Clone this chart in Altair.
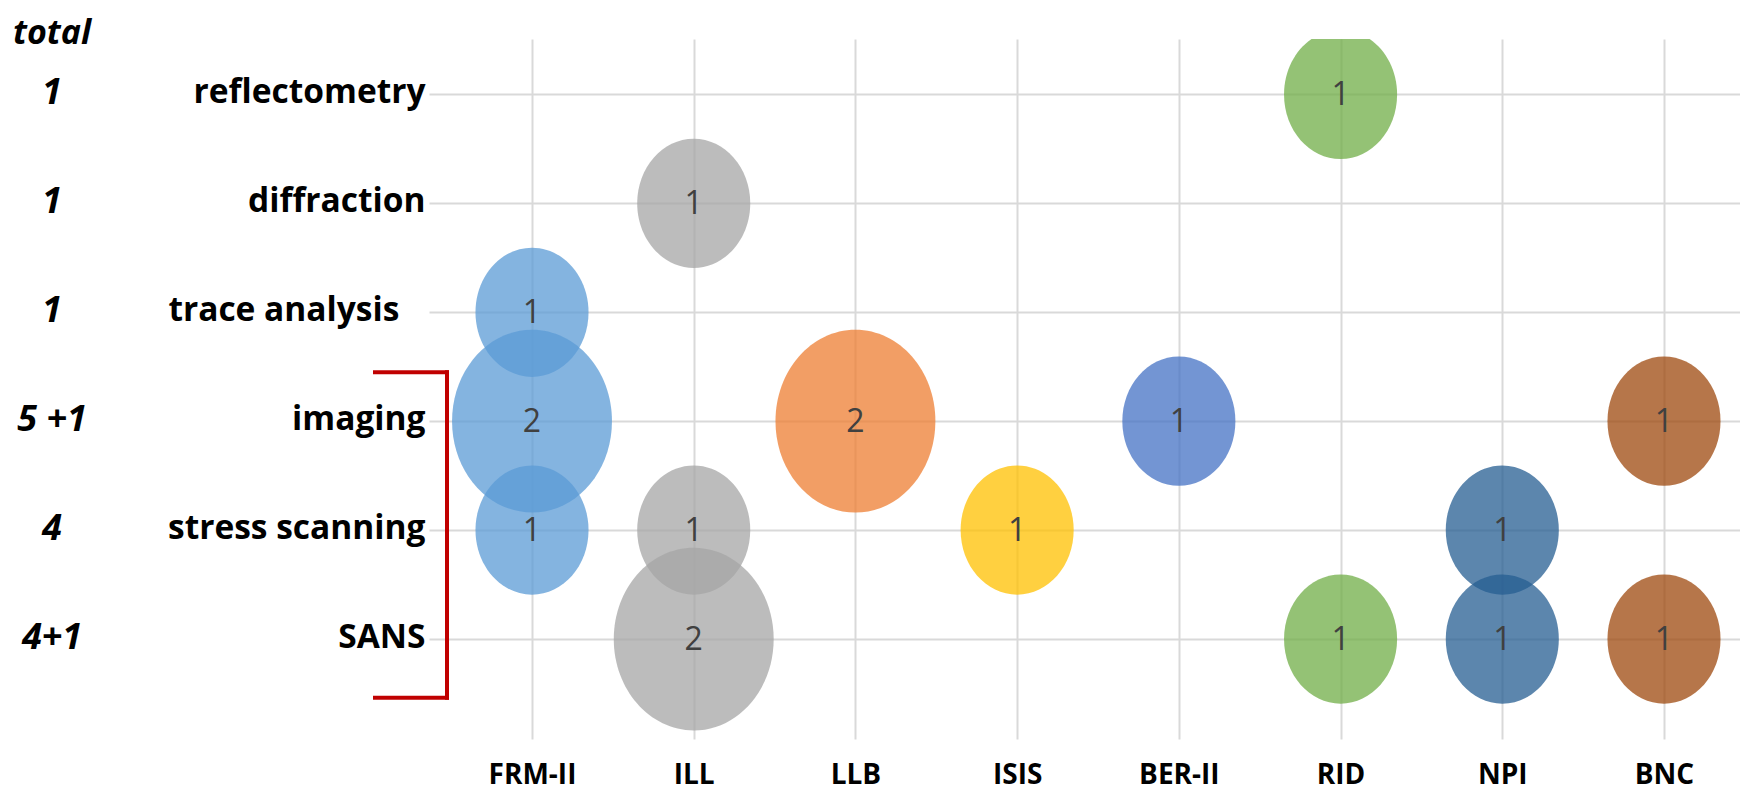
import json
import altair as alt
import pandas as pd

# ---- data ----
facilities = ["FRM-II", "ILL", "LLB", "ISIS", "BER-II", "RID", "NPI", "BNC"]
techniques = ["reflectometry", "diffraction", "trace analysis", "imaging", "stress scanning", "SANS"]
technique_labels = ["reflectometry", "diffraction", "trace analysis\u00a0\u00a0\u00a0\u200b", "imaging", "stress scanning", "SANS"]
totals = ["1", "1", "1", "5 +1", "4", "4+1"]

bubble_facility = ["FRM-II", "FRM-II", "FRM-II", "ILL", "ILL", "ILL", "LLB", "ISIS",
                   "BER-II", "RID", "RID", "NPI", "NPI", "BNC", "BNC"]
bubble_technique = ["trace analysis", "imaging", "stress scanning", "diffraction", "stress scanning", "SANS",
                    "imaging", "stress scanning", "imaging", "reflectometry", "SANS",
                    "stress scanning", "SANS", "imaging", "SANS"]
bubble_count = [1, 2, 1, 1, 1, 2, 2, 1, 1, 1, 1, 1, 1, 1, 1]

facility_colors = ["#5B9BD5", "#A5A5A5", "#ED7D31", "#FFC000", "#4472C4", "#70AD47", "#255E91", "#9E480E"]

bracket_group = ["imaging", "SANS"]

# ---- tables ----
bubbles = pd.DataFrame({
    "facility": bubble_facility,
    "technique": bubble_technique,
    "count": bubble_count,
})
bubbles["xi"] = [facilities.index(f) for f in bubble_facility]
bubbles["yi"] = [techniques.index(t) for t in bubble_technique]

tot = pd.DataFrame({"yi": list(range(len(techniques))), "total": totals})

x_expr = json.dumps(facilities, ensure_ascii=False) + "[datum.value]"
y_expr = json.dumps(technique_labels, ensure_ascii=False) + "[datum.value]"

W, H = 1311, 700
x_scale = alt.Scale(domain=[-0.637, 7.47], nice=False, zero=False)
y_scale = alt.Scale(domain=[5.918, -0.509], nice=False, zero=False)

ellipse = "M0,-1 A0.875,1 0 1,1 0,1 A0.875,1 0 1,1 0,-1 Z"

x_enc = alt.X("xi:Q", scale=x_scale, title=None,
              axis=alt.Axis(values=list(range(len(facilities))), labelExpr=x_expr,
                            grid=True, gridColor="#D9D9D9", gridWidth=2,
                            domain=False, ticks=False,
                            labelFont="Open Sans", labelFontWeight="bold", labelFontSize=28,
                            labelColor="#000000", labelPadding=22))
y_enc = alt.Y("yi:Q", scale=y_scale, title=None,
              axis=alt.Axis(values=list(range(len(techniques))), labelExpr=y_expr,
                            grid=True, gridColor="#D9D9D9", gridWidth=2,
                            domain=False, ticks=False, labelLimit=0,
                            labelFont="Open Sans", labelFontWeight="bold", labelFontSize=33.5,
                            labelColor="#000000", labelPadding=4,
                            labelBaseline="alphabetic", labelOffset=8))

points = alt.Chart(bubbles).mark_point(
    shape=ellipse, filled=True, opacity=0.75, strokeWidth=0, clip=True
).encode(
    x=x_enc,
    y=y_enc,
    size=alt.Size("count:Q", scale=alt.Scale(domain=[0, 2], range=[0, 33400]), legend=None),
    color=alt.Color("facility:N", scale=alt.Scale(domain=facilities, range=facility_colors), legend=None),
)

labels = alt.Chart(bubbles).mark_text(
    font="Open Sans", fontSize=32, color="#404040", baseline="middle", align="center", dy=1
).encode(
    x=alt.X("xi:Q", scale=x_scale),
    y=alt.Y("yi:Q", scale=y_scale),
    text=alt.Text("count:Q"),
)

total_text = alt.Chart(tot).mark_text(
    font="Open Sans", fontSize=36, fontWeight="bold", fontStyle="italic",
    color="#000000", align="center", baseline="alphabetic", dy=10
).encode(
    x=alt.value(-377),
    y=alt.Y("yi:Q", scale=y_scale),
    text="total:N",
)

header = alt.Chart(pd.DataFrame({"t": ["total"]})).mark_text(
    font="Open Sans", fontSize=34, fontWeight="bold", fontStyle="italic",
    color="#000000", align="center", baseline="alphabetic"
).encode(x=alt.value(-377), y=alt.value(5), text="t:N")

top_v = techniques.index(bracket_group[0]) - 0.45
bot_v = techniques.index(bracket_group[1]) + 0.54
br = pd.DataFrame({"y": [top_v, bot_v]})

bracket_v = alt.Chart(pd.DataFrame({"y": [top_v], "y2": [bot_v]})).mark_rule(
    color="#C00000", strokeWidth=4, strokeCap="square"
).encode(x=alt.value(18), y=alt.Y("y:Q", scale=y_scale), y2="y2:Q")

bracket_h = alt.Chart(br).mark_rule(
    color="#C00000", strokeWidth=4, strokeCap="square"
).encode(x=alt.value(-54), x2=alt.value(18), y=alt.Y("y:Q", scale=y_scale))

chart = alt.layer(points, labels, total_text, header, bracket_v, bracket_h).properties(
    width=W, height=H,
    autosize=alt.AutoSizeParams(type="none"),
    padding={"left": 421, "top": 31, "right": 0, "bottom": 52},
).configure_view(stroke=None)

chart.save("out.html", embed_options={"renderer": "svg", "actions": False})
